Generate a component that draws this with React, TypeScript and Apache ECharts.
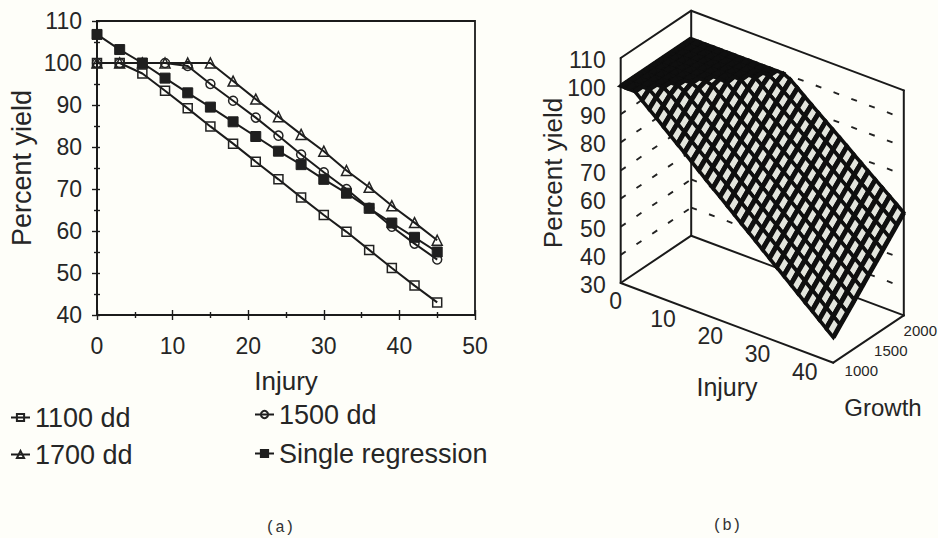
import React, { useEffect, useRef } from "react";
import * as echarts from "echarts";

const injuryA = [0, 3, 6, 9, 12, 15, 18, 21, 24, 27, 30, 33, 36, 39, 42, 45];
const dd1100 = [100, 100, 97.5, 93.4, 89.2, 84.9, 80.8, 76.5, 72.3, 68, 63.8, 59.8, 55.5, 51.2, 47, 43];
const dd1500 = [100, 100, 100, 100, 99.3, 95, 91, 87, 82.7, 78.2, 74, 70, 65.5, 61, 57, 53.2];
const dd1700 = [100, 100, 100, 100, 100, 100, 95.7, 91.4, 87.2, 83, 79, 74.4, 70.4, 66, 62, 57.8];
const single = [106.8, 103.2, 100, 96.4, 92.9, 89.5, 86, 82.5, 79, 75.8, 72.3, 69, 65.4, 61.9, 58.5, 55];

const injuryB = [0, 1.5, 3, 4.5, 6, 7.5, 9, 10.5, 12, 13.5, 15, 16.5, 18, 19.5, 21, 22.5, 24, 25.5, 27, 28.5, 30, 31.5, 33, 34.5, 36, 37.5, 39, 40.5, 42, 43.5, 45];
const growthB = [1000, 1100, 1200, 1300, 1400, 1500, 1600, 1700, 1800, 1900, 2000];
const yieldB = [
  [100, 100, 100, 97.8, 95.6, 93.5, 91.3, 89.1, 86.9, 84.8, 82.6, 80.4, 78.2, 76, 73.9, 71.7, 69.5, 67.3, 65.2, 63, 60.8, 58.6, 56.4, 54.3, 52.1, 49.9, 47.7, 45.6, 43.4, 41.2, 39],
  [100, 100, 100, 100, 98.1, 96, 93.8, 91.6, 89.5, 87.3, 85.1, 83, 80.8, 78.6, 76.4, 74.3, 72.1, 69.9, 67.8, 65.6, 63.4, 61.3, 59.1, 56.9, 54.8, 52.6, 50.4, 48.3, 46.1, 43.9, 41.8],
  [100, 100, 100, 100, 100, 98.4, 96.3, 94.1, 91.9, 89.8, 87.6, 85.5, 83.3, 81.2, 79, 76.8, 74.7, 72.5, 70.4, 68.2, 66.1, 63.9, 61.7, 59.6, 57.4, 55.3, 53.1, 51, 48.8, 46.6, 44.5],
  [100, 100, 100, 100, 100, 100, 98.7, 96.6, 94.4, 92.3, 90.1, 88, 85.8, 83.7, 81.6, 79.4, 77.3, 75.1, 73, 70.8, 68.7, 66.5, 64.4, 62.2, 60.1, 58, 55.8, 53.7, 51.5, 49.4, 47.2],
  [100, 100, 100, 100, 100, 100, 100, 99, 96.9, 94.7, 92.6, 90.5, 88.4, 86.2, 84.1, 82, 79.8, 77.7, 75.6, 73.4, 71.3, 69.2, 67, 64.9, 62.8, 60.7, 58.5, 56.4, 54.3, 52.1, 50],
  [100, 100, 100, 100, 100, 100, 100, 100, 99.3, 97.2, 95.1, 93, 90.8, 88.7, 86.6, 84.5, 82.4, 80.3, 78.1, 76, 73.9, 71.8, 69.7, 67.6, 65.5, 63.3, 61.2, 59.1, 57, 54.9, 52.8],
  [100, 100, 100, 100, 100, 100, 100, 100, 100, 99.6, 97.5, 95.4, 93.3, 91.2, 89.1, 87, 84.9, 82.8, 80.7, 78.6, 76.5, 74.4, 72.3, 70.2, 68.1, 66, 63.9, 61.8, 59.7, 57.6, 55.5],
  [100, 100, 100, 100, 100, 100, 100, 100, 100, 100, 99.9, 97.8, 95.7, 93.6, 91.5, 89.5, 87.4, 85.3, 83.2, 81.1, 79.1, 77, 74.9, 72.8, 70.7, 68.7, 66.6, 64.5, 62.4, 60.4, 58.3],
  [100, 100, 100, 100, 100, 100, 100, 100, 100, 100, 100, 100, 98.1, 96, 94, 91.9, 89.8, 87.8, 85.7, 83.7, 81.6, 79.5, 77.5, 75.4, 73.4, 71.3, 69.2, 67.2, 65.1, 63.1, 61],
  [100, 100, 100, 100, 100, 100, 100, 100, 100, 100, 100, 100, 100, 98.4, 96.3, 94.3, 92.3, 90.2, 88.2, 86.1, 84.1, 82.1, 80, 78, 76, 73.9, 71.9, 69.9, 67.8, 65.8, 63.8],
  [100, 100, 100, 100, 100, 100, 100, 100, 100, 100, 100, 100, 100, 100, 98.7, 96.7, 94.6, 92.6, 90.6, 88.6, 86.6, 84.6, 82.6, 80.5, 78.5, 76.5, 74.5, 72.5, 70.5, 68.5, 66.5],
];
const wallLevels = [40, 50, 60, 70, 80, 90, 100];
const yieldTicks = [110, 100, 90, 80, 70, 60, 50, 40, 30];
const injuryTicks = [0, 10, 20, 30, 40];
const growthTicks = [1000, 1500, 2000];

const FONT = '"Liberation Sans"';
const INK = "#1b1b1b";
const TEXT = "#262626";
const PAPER = "#fefef9";

// Oblique projection: the hidden axes map injury and yield; growth and the
// injury depth shear the result.
function project(api: any, inj: number, growth: number, z: number) {
  const p = api.coord([inj, z]);
  return [p[0] + (growth - 1000) * 0.0705, p[1] + inj * 1.771 - (growth - 1000) * 0.0473];
}

const makeSeriesLine = (name: string, values: number[], symbol: string, size: number, filled: boolean) => ({
  type: "line",
  name,
  xAxisIndex: 0,
  yAxisIndex: 0,
  data: injuryA.map((x, i) => [x, values[i]]),
  symbol,
  symbolSize: size,
  showSymbol: true,
  clip: false,
  z: filled ? 4 : 3,
  lineStyle: { color: INK, width: 2 },
  itemStyle: filled
    ? { color: "#1f1f1f", borderColor: "#1f1f1f", borderWidth: 1 }
    : { color: "transparent", borderColor: "#222", borderWidth: 1.5 },
});

export default function App() {
  const ref = useRef<HTMLDivElement>(null);
  useEffect(() => {
    document.body.style.margin = "0";
    document.body.style.overflow = "hidden";
    const chart = echarts.init(ref.current!, null, { renderer: "svg" });

    const cells: number[][] = [];
    for (let j = growthB.length - 2; j >= 0; j--) {
      for (let i = 0; i < injuryB.length - 1; i++) cells.push([injuryB[i], yieldB[j][i], growthB[j], i, j]);
    }
    const frameSegments: number[][] = [
      [0, 1000, 30, 45, 1000, 30],
      [45, 1000, 30, 45, 2000, 30],
      [45, 2000, 30, 0, 2000, 30],
      [0, 2000, 30, 0, 1000, 30],
      [0, 1000, 30, 0, 1000, 110],
      [0, 2000, 30, 0, 2000, 110],
      [45, 2000, 30, 45, 2000, 110],
      [0, 1000, 110, 0, 2000, 110],
      [0, 2000, 110, 45, 2000, 110],
    ];

    const baseAxis = {
      axisLine: { show: true, onZero: false, lineStyle: { color: INK, width: 1.8 } },
      splitLine: { show: false },
    };
    const tickLabel = { fontFamily: FONT, fontSize: 23, color: TEXT };

    const option: any = {
      animation: false,
      backgroundColor: PAPER,
      textStyle: { fontFamily: FONT },
      grid: [
        { left: 97, width: 378, top: 21, height: 294, show: true, borderColor: INK, borderWidth: 1.8, backgroundColor: "transparent" },
        { left: 620.7, width: 212.6, top: 58, height: 225 },
      ],
      legend: [
        ["1100 dd", 10, 404],
        ["1700 dd", 10, 441],
        ["1500 dd", 254, 401],
        ["Single regression", 254, 440],
      ].map(([name, left, top]) => ({
        data: [name],
        left,
        top,
        padding: 0,
        itemWidth: 19,
        itemHeight: 9,
        textStyle: { fontFamily: FONT, fontSize: 27, color: TEXT },
      })),
      xAxis: [
        {
          ...baseAxis,
          type: "value",
          gridIndex: 0,
          position: "bottom",
          min: 0,
          max: 50,
          interval: 10,
          name: "Injury",
          nameLocation: "middle",
          nameGap: 53,
          nameTextStyle: { fontFamily: FONT, fontSize: 26, color: TEXT },
          axisTick: { show: true, length: 5, lineStyle: { color: INK, width: 1.4 } },
          minorTick: { show: true, splitNumber: 2, length: 3, lineStyle: { color: INK, width: 1.4 } },
          axisLabel: { ...tickLabel, margin: 19 },
        },
        {
          ...baseAxis,
          type: "value",
          gridIndex: 0,
          position: "bottom",
          min: 0,
          max: 50,
          interval: 10,
          axisTick: { show: true, inside: true, length: 5, lineStyle: { color: INK, width: 1.4 } },
          minorTick: { show: true, splitNumber: 2, length: 3, lineStyle: { color: INK, width: 1.4 } },
          axisLabel: { show: false },
        },
        { type: "value", gridIndex: 1, min: 0, max: 45, show: false },
      ],
      yAxis: [
        {
          ...baseAxis,
          type: "value",
          gridIndex: 0,
          position: "left",
          min: 40,
          max: 110,
          interval: 10,
          name: "Percent yield",
          nameLocation: "middle",
          nameRotate: 90,
          nameGap: 62,
          nameTextStyle: { fontFamily: FONT, fontSize: 27, color: TEXT },
          axisTick: { show: true, length: 5, lineStyle: { color: INK, width: 1.4 } },
          minorTick: { show: true, splitNumber: 2, length: 3, lineStyle: { color: INK, width: 1.4 } },
          axisLabel: { ...tickLabel, margin: 15 },
        },
        {
          ...baseAxis,
          type: "value",
          gridIndex: 0,
          position: "left",
          min: 40,
          max: 110,
          interval: 10,
          axisTick: { show: true, inside: true, length: 3, lineStyle: { color: INK, width: 1.4 } },
          minorTick: { show: true, splitNumber: 2, length: 3, lineStyle: { color: INK, width: 1.4 } },
          axisLabel: { show: false },
        },
        { type: "value", gridIndex: 1, min: 30, max: 110, show: false },
      ],
      series: [
        makeSeriesLine("1100 dd", dd1100, "rect", 9, false),
        makeSeriesLine("1500 dd", dd1500, "circle", 9, false),
        makeSeriesLine("1700 dd", dd1700, "triangle", 10, false),
        makeSeriesLine("Single regression", single, "rect", 10, true),
        // dashed lines on the two back walls
        {
          type: "custom",
          xAxisIndex: 2,
          yAxisIndex: 2,
          clip: false,
          silent: true,
          z: 1,
          data: wallLevels.map((z) => [0, z]),
          renderItem: (_: any, api: any) => {
            const z = api.value(1);
            const style = { stroke: "#222", lineWidth: 1.9, fill: "none", lineDash: [6, 13] };
            const a = project(api, 0, 1000, z);
            const b = project(api, 0, 2000, z);
            const c = project(api, 45, 2000, z);
            return {
              type: "group",
              children: [
                { type: "line", shape: { x1: a[0], y1: a[1], x2: b[0], y2: b[1] }, style },
                { type: "line", shape: { x1: b[0], y1: b[1], x2: c[0], y2: c[1] }, style },
              ],
            };
          },
        },
        // box frame
        {
          type: "custom",
          xAxisIndex: 2,
          yAxisIndex: 2,
          clip: false,
          silent: true,
          z: 1,
          data: frameSegments,
          renderItem: (_: any, api: any) => {
            const a = project(api, api.value(0), api.value(1), api.value(2));
            const b = project(api, api.value(3), api.value(4), api.value(5));
            return {
              type: "line",
              shape: { x1: a[0], y1: a[1], x2: b[0], y2: b[1] },
              style: { stroke: "#1a1a1a", lineWidth: 2, fill: "none", lineCap: "round" },
            };
          },
        },
        // surface: filled cells first, then the heavier mesh lines over them
        {
          type: "custom",
          xAxisIndex: 2,
          yAxisIndex: 2,
          clip: false,
          silent: true,
          z: 2,
          data: cells,
          renderItem: (_: any, api: any) => {
            const i = api.value(3);
            const j = api.value(4);
            const z00 = yieldB[j][i];
            const z10 = yieldB[j][i + 1];
            const z01 = yieldB[j + 1][i];
            const z11 = yieldB[j + 1][i + 1];
            const flat = Math.min(z00, z10, z01, z11) >= 99.5;
            const a = project(api, injuryB[i], growthB[j], z00);
            const b = project(api, injuryB[i + 1], growthB[j], z10);
            const c = project(api, injuryB[i + 1], growthB[j + 1], z11);
            const d = project(api, injuryB[i], growthB[j + 1], z01);
            return {
              type: "group",
              children: [
                {
                  type: "polygon",
                  shape: { points: [a, b, c, d] },
                  style: { fill: flat ? "#0f0f0f" : "#e3e5dd", stroke: "#0f0f0f", lineWidth: 3.6 },
                },
                {
                  type: "line",
                  shape: { x1: a[0], y1: a[1], x2: d[0], y2: d[1] },
                  style: { stroke: "#0f0f0f", lineWidth: 4.8, fill: "none" },
                },
                {
                  type: "line",
                  shape: { x1: b[0], y1: b[1], x2: c[0], y2: c[1] },
                  style: { stroke: "#0f0f0f", lineWidth: 4.8, fill: "none" },
                },
              ],
            };
          },
        },
        // yield tick labels
        {
          type: "custom",
          xAxisIndex: 2,
          yAxisIndex: 2,
          clip: false,
          silent: true,
          data: yieldTicks.map((z) => [0, z]),
          renderItem: (_: any, api: any) => {
            const p = project(api, 0, 1000, api.value(1));
            return {
              type: "text",
              x: p[0] - 15,
              y: p[1] + 2,
              style: { text: String(api.value(1)), font: `23px ${FONT}`, fill: TEXT, align: "right", verticalAlign: "middle" },
            };
          },
        },
        // injury tick labels
        {
          type: "custom",
          xAxisIndex: 2,
          yAxisIndex: 2,
          clip: false,
          silent: true,
          data: injuryTicks.map((x) => [x, 30]),
          renderItem: (_: any, api: any) => {
            const p = project(api, api.value(0), 1000, 30);
            return {
              type: "text",
              x: p[0] - 5,
              y: p[1] + 18,
              style: { text: String(api.value(0)), font: `23px ${FONT}`, fill: TEXT, align: "center", verticalAlign: "middle" },
            };
          },
        },
        // growth tick labels
        {
          type: "custom",
          xAxisIndex: 2,
          yAxisIndex: 2,
          clip: false,
          silent: true,
          data: growthTicks.map((g) => [45, 30, g]),
          renderItem: (_: any, api: any) => {
            const g = api.value(2);
            const p = project(api, 45, g, 30);
            return {
              type: "text",
              x: p[0] + 28 - (g - 1000) * 0.0115,
              y: p[1] + 8 + (g - 1000) * 0.007,
              style: { text: String(g), font: `15px ${FONT}`, fill: TEXT, align: "center", verticalAlign: "middle" },
            };
          },
        },
      ],
      graphic: [
        { type: "text", x: 553, y: 173, rotation: Math.PI / 2, style: { text: "Percent yield", font: `26px ${FONT}`, fill: TEXT, align: "center", verticalAlign: "middle" } },
        { type: "text", x: 727, y: 387, style: { text: "Injury", font: `25px ${FONT}`, fill: TEXT, align: "center", verticalAlign: "middle" } },
        { type: "text", x: 883, y: 407, style: { text: "Growth", font: `24px ${FONT}`, fill: TEXT, align: "center", verticalAlign: "middle" } },
        { type: "text", x: 280, y: 528, style: { text: "(a)", font: `16px "Liberation Mono"`, fill: "#333", align: "center", verticalAlign: "middle" } },
        { type: "text", x: 727, y: 526, style: { text: "(b)", font: `16px "Liberation Mono"`, fill: "#333", align: "center", verticalAlign: "middle" } },
      ],
    };
    chart.setOption(option);
    return () => chart.dispose();
  }, []);
  return <div ref={ref} style={{ width: 938, height: 538, background: PAPER }} />;
}
